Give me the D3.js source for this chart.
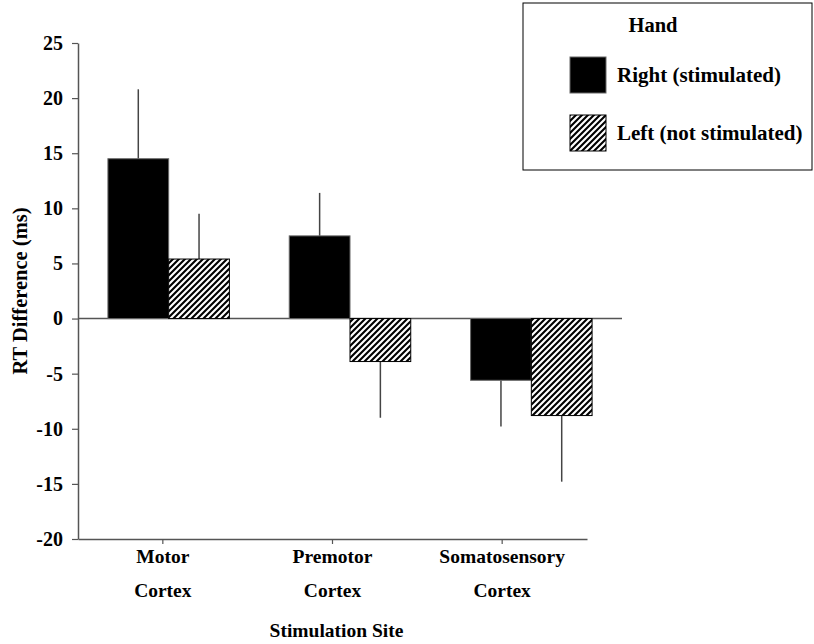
<!DOCTYPE html>
<html>
<head>
<meta charset="utf-8">
<script src="https://cdn.jsdelivr.net/npm/d3@7"></script>
<style>
  body { margin: 0; background: #fff; }
</style>
</head>
<body>
<div id="chart"></div>
<script>
// values
const sites = ['Motor Cortex', 'Premotor Cortex', 'Somatosensory Cortex'];
const siteLines = [['Motor', 'Cortex'], ['Premotor', 'Cortex'], ['Somatosensory', 'Cortex']];
const hands = ['Right (stimulated)', 'Left (not stimulated)'];
const rightMeans = [14.5, 7.5, -5.6];
const rightErrors = [6.3, 3.9, 4.2];
const leftMeans = [5.4, -3.9, -8.8];
const leftErrors = [4.1, 5.1, 6.0];
const yTicks = [-20, -15, -10, -5, 0, 5, 10, 15, 20, 25];

const width = 814;
const height = 644;
const margin = { t: 43, r: 192, b: 105, l: 78 };
const FONT = "'Liberation Serif'";

const rows = [];
sites.forEach((s, i) => {
  rows.push({ site: s, hand: hands[0], mean: rightMeans[i], err: rightErrors[i] });
  rows.push({ site: s, hand: hands[1], mean: leftMeans[i], err: leftErrors[i] });
});

const svg = d3
  .select('#chart')
  .append('svg')
  .attr('width', width)
  .attr('height', height);

const defs = svg.append('defs');
const pat = defs
  .append('pattern')
  .attr('id', 'hatch')
  .attr('patternUnits', 'userSpaceOnUse')
  .attr('width', 6)
  .attr('height', 6);
pat.append('rect').attr('width', 6).attr('height', 6).attr('fill', '#fff');
pat
  .append('path')
  .attr('d', 'M-1,1 L1,-1 M0,6 L6,0 M5,7 L7,5')
  .attr('stroke', '#000')
  .attr('stroke-width', 2.1);

const fill = d3.scaleOrdinal().domain(hands).range(['#000', 'url(#hatch)']);

const y = d3.scaleLinear().domain([-20, 25]).range([height - margin.b, margin.t]);

// bars sit on a wider band than the drawn x axis (as in the original figure)
const xBars = d3.scaleBand().domain(sites).range([margin.l, width - margin.r]).paddingInner(0.33).paddingOuter(0.165);
const xHand = d3.scaleBand().domain(hands).range([0, xBars.bandwidth()]);
const xAxisScale = d3.scaleBand().domain(sites).range([margin.l, 587]);

// y axis
const yAxis = svg
  .append('g')
  .attr('transform', `translate(${margin.l},0)`)
  .call(d3.axisLeft(y).tickValues(yTicks).tickSize(6).tickPadding(9).tickSizeOuter(0).tickFormat((d) => String(d)));
yAxis.select('.domain').attr('stroke', '#555').attr('stroke-width', 1.5);
yAxis.selectAll('.tick line').attr('stroke', '#555').attr('stroke-width', 1.2);
yAxis.selectAll('.tick text')
  .style('font-size', '20px')
  .style('font-family', FONT)
  .style('font-weight', 'bold')
  .attr('fill', '#000');

// x axis at bottom
const xAxis = svg
  .append('g')
  .attr('transform', `translate(0,${y(-20)})`)
  .call(d3.axisBottom(xAxisScale).tickSize(5).tickSizeOuter(0).tickFormat(''));
xAxis.select('.domain').attr('stroke', '#555').attr('stroke-width', 1.5);
xAxis.selectAll('.tick line').attr('stroke', '#555').attr('stroke-width', 1.2);

const labels = svg.append('g').selectAll('text').data(sites).join('text')
  .attr('x', (d) => xAxisScale(d) + xAxisScale.bandwidth() / 2)
  .attr('y', y(-20) + 24)
  .attr('text-anchor', 'middle')
  .style('font-family', FONT)
  .style('font-weight', 'bold')
  .style('font-size', '19.5px');
labels.selectAll('tspan').data((d, i) => siteLines[i]).join('tspan')
  .attr('x', function () { return d3.select(this.parentNode).attr('x'); })
  .attr('dy', (d, i) => (i === 0 ? 0 : 34))
  .text((d) => d);

// zero line
svg.append('line')
  .attr('x1', margin.l)
  .attr('x2', width - margin.r)
  .attr('y1', y(0))
  .attr('y2', y(0))
  .attr('stroke', '#555')
  .attr('stroke-width', 1.5);

// error bars (drawn away from zero)
svg.append('g').selectAll('line').data(rows).join('line')
  .attr('x1', (d) => xBars(d.site) + xHand(d.hand) + xHand.bandwidth() / 2)
  .attr('x2', (d) => xBars(d.site) + xHand(d.hand) + xHand.bandwidth() / 2)
  .attr('y1', (d) => y(d.mean))
  .attr('y2', (d) => y(d.mean + Math.sign(d.mean) * d.err))
  .attr('stroke', '#444')
  .attr('stroke-width', 1.5);

// bars
svg.append('g').selectAll('rect').data(rows).join('rect')
  .attr('x', (d) => xBars(d.site) + xHand(d.hand))
  .attr('width', xHand.bandwidth())
  .attr('y', (d) => y(Math.max(0, d.mean)))
  .attr('height', (d) => Math.abs(y(d.mean) - y(0)))
  .attr('fill', (d) => fill(d.hand))
  .attr('stroke', (d) => (d.hand === hands[0] ? '#666' : '#000'))
  .attr('stroke-width', 1);

// axis titles
svg.append('text')
  .attr('x', (margin.l + 587) / 2 + 4)
  .attr('y', 637)
  .attr('text-anchor', 'middle')
  .style('font-family', FONT)
  .style('font-weight', 'bold')
  .style('font-size', '19.5px')
  .text('Stimulation Site');

svg.append('text')
  .attr('transform', `translate(27, ${y(2.5)}) rotate(-90)`)
  .attr('text-anchor', 'middle')
  .style('font-family', FONT)
  .style('font-weight', 'bold')
  .style('font-size', '20.5px')
  .text('RT Difference (ms)');

// legend
const legend = svg.append('g').attr('transform', 'translate(523,3)');
legend.append('rect')
  .attr('width', 289)
  .attr('height', 167)
  .attr('fill', '#fff')
  .attr('stroke', '#000')
  .attr('stroke-width', 1);
legend.append('text')
  .attr('x', 130)
  .attr('y', 29)
  .attr('text-anchor', 'middle')
  .style('font-family', FONT)
  .style('font-weight', 'bold')
  .style('font-size', '20.5px')
  .text('Hand');
const items = legend.selectAll('.item').data(hands).join('g')
  .attr('class', 'item')
  .attr('transform', (d, i) => `translate(47, ${54 + i * 58})`);
items.append('rect')
  .attr('width', 36)
  .attr('height', 36)
  .attr('fill', (d) => fill(d))
  .attr('stroke', (d) => (d === hands[0] ? '#666' : '#000'))
  .attr('stroke-width', 1);
items.append('text')
  .attr('x', 47)
  .attr('y', 25)
  .style('font-family', FONT)
  .style('font-weight', 'bold')
  .style('font-size', '21px')
  .text((d) => d);
</script>
</body>
</html>
